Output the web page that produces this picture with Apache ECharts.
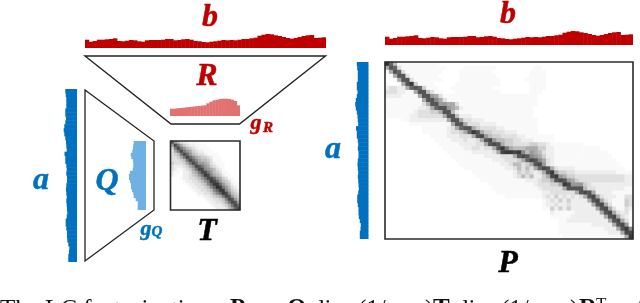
<!DOCTYPE html>
<html><head><meta charset="utf-8">
<style>html,body{margin:0;padding:0;background:#fff;overflow:hidden}#c{width:640px;height:303px;filter:blur(0.45px)}</style>
<script src="https://cdn.jsdelivr.net/npm/echarts@6/dist/echarts.min.js"></script>
</head><body><div id="c"></div>
<script>
const bMarginal = [8.3,6.3,7,8.3,8.3,8.7,9,9.7,7,6.7,7.3,8,7.7,6.7,6.3,7.7,8,8,8,8.3,9,9,7.7,8,8.7,9,8.3,7,6.7,6,5.7,6.3,6.7,7.3,8,7.7,8,7.7,8.3,9,9,9.7,10.3,12.3,13.3,14,13.7,12.7,12,11,10,9.3,10,11,12,12.7,13,10,10.3,10.7];
const aMarginal = [11.7,11.3,10.7,10.7,10.7,11.7,11.7,11,11.7,12.7,13.3,12.7,11.7,11,10.7,10.3,12.5,11.7,11.7,10.7,10.3,10.7,10,10,10.7,11,10.7,10.3,10.7,10.3,10,9.7,10.3,11.3,11.3,10.7,10,10,9.7,8.7,7.7,8,8.7,8.7];
const gR = [7.3,7.3,7.7,8,8.3,8.7,9,9.3,9.7,10,10.3,10.7,12.7,14.3,15.7,16.3,17,17.3,17.3,17,16.3,15,10.7];
const gQ = [12.3,12.7,13,13.7,15.3,14.7,13,12.7,12.7,13.3,16,17,17,16,15,15,14,12.7,12.3,10.3,8.3,8.3,8.3];
const tRows = [
"b7532 21110 00000 00000 000","7c964 32211 11000 00000 000","49c97 54321 11100 00000 000","369c9 76432 21110 00000 000",
"3459c a7543 32111 10000 000","33469 ca865 44321 11000 000","33345 9ca86 55431 11000 000","43334 69ca7 76532 11100 000",
"32223 468cb 97643 21100 000","32112 3469c c8765 32100 000","21102 23569 cc975 43110 000","21002 23457 9dc86 54211 000",
"00012 23345 79cca 76431 100","00001 22334 579dc a7543 110","00000 12233 458ad da754 211","00000 01223 3458a ed975 321",
"00000 00122 33458 add86 432","00000 00012 23346 8adc8 543","00000 00001 12234 569cb 754","00000 00000 01223 3458c b75",
"00000 00000 00122 33469 cb7","00000 00000 00012 22346 9ca","00000 00000 00001 22235 7ac"];
const pRows = [
"ea51111111 1110000000 0000000000 0000000000 0000000000 0000000000",
"6ba3111111 1111100001 1111111000 0000001100 0000000000 0000000000",
"16ba311111 1111000011 1111110000 0000011110 0000000000 0000000000",
"016bb31111 1110000011 1111111000 0000011110 0000000000 0000000000",
"0016bb3111 1111000011 1111111100 0000111110 0000000000 0000000000",
"10016bd411 1100000111 1111111100 0000011110 0000000000 0000000000",
"233226aba4 1110001111 1111110000 0000011110 0000000000 0000000000",
"33322116bb 5311000111 1111111100 0000011100 0000000000 0000000000",
"222211116b b763111111 1111111111 1111111000 0000000000 0000000000",
"1111111116 bb86311111 1111111111 1111111000 0000000000 0000000000",
"1111111113 6bb7766311 1111111111 1111111000 0000000000 0000000000",
"1111111122 36abb76521 1111111111 1111110000 0000000000 0000000000",
"1111111233 3446bb5211 1111111111 1111110000 0000000000 0000000000",
"1111112233 33336bb522 2111111111 1111110000 0000000000 0000000000",
"0000112222 222226bb63 3222111111 1111111000 0000000000 0000000000",
"0000001111 1111116bb6 3332222111 1111111000 0000000000 0000000000",
"0000000001 11111236ab b643333221 1111111000 0000000000 0000000000",
"0000000001 1111123346 adb6443332 2211111000 0000000000 0000000000",
"0000000000 0111122233 36bc754433 3322111111 1000000000 0000000000",
"0000000000 0011112223 2236bc7554 4332221111 1000000000 0000000000",
"0000000000 0001111122 22336bcb64 4333344332 1111111100 0000000000",
"0000000000 0000111112 2332336bd9 6555666442 2111111111 1100000000",
"0000000000 0000011111 12222236cd dcd8576532 2111111111 1111000000",
"0000000000 0000001111 1111222233 36bcb87642 2111111111 1111100000",
"0000000000 0000000111 1111112223 3346acb863 2111111111 1111110000",
"0000000000 0000000011 1111111122 355346bc73 2111111111 1111111000",
"0000000000 0000000001 1111111112 2353536acb 6322221111 1111111100",
"0000000000 0000000000 0111111111 124343236b d644332222 2222221111",
"0000000000 0000000000 0011111111 1235352246 cd76443333 3333333322",
"0000000000 0000000000 0001111111 1111222344 6bcb764333 3333333322",
"0000000000 0000000000 0000011111 1111112333 446dc77743 2222222222",
"0000000000 0000000000 0000001111 1111111233 3336bbbb53 3222222211",
"0000000000 0000000000 0000000111 1111111122 3333336bcb 6222211111",
"0000000000 0000000000 0000000001 1111111123 242323236b c632221133",
"0000000000 0000000000 0000000000 0000000012 3242422226 bc63211143",
"0000000000 0000000000 0000000000 0000000012 2322322222 6bc6311143",
"0000000000 0000000000 0000000000 0000000011 4242422222 26bc631132",
"0000000000 0000000000 0000000000 0000000000 2111112222 226bc63231",
"0000000000 0000000000 0000000000 0000000000 1111122222 2226bc6321",
"0000000000 0000000000 0000000000 0000000000 0011222222 22226bc631",
"0000000000 0000000000 0000000000 0000000000 0011111111 222226bc71",
"0000000000 0000000000 0000000000 0000000000 0011111111 1112226bd8",
"0000000000 0000000000 0000000000 0000000000 0011111111 11112226cc",
"0000000000 0000000000 0000000000 0000000000 0001111111 111111126d"];
const grayRamp = ['#ffffff','#f9f9f9','#eeeeee','#e0e0e0','#cfcfcf','#bdbdbd','#aaaaaa','#999999','#888888','#777777','#666666','#555555','#484848','#3a3a3a','#2e2e2e'];

const idx = n => Array.from({length:n},(_,i)=>i);
const cells = rows => rows.flatMap((r,y)=>r.replace(/ /g,'').split('').map((c,x)=>[x,y,parseInt(c,16)]));

const grids=[], xAxis=[], yAxis=[], series=[];
function hBars(rect,vals,max,color){
  const g=grids.length; grids.push(rect);
  xAxis.push({gridIndex:g,type:'category',data:idx(vals.length),show:false});
  yAxis.push({gridIndex:g,type:'value',min:0,max,show:false});
  series.push({type:'bar',xAxisIndex:g,yAxisIndex:g,data:vals,barWidth:'112%',silent:true,itemStyle:{color}});
}
function vBars(rect,vals,max,color){
  const g=grids.length; grids.push(rect);
  xAxis.push({gridIndex:g,type:'value',min:0,max,inverse:true,show:false});
  yAxis.push({gridIndex:g,type:'category',inverse:true,data:idx(vals.length),show:false});
  series.push({type:'bar',xAxisIndex:g,yAxisIndex:g,data:vals,barWidth:'112%',silent:true,itemStyle:{color}});
}
function heat(rect,rows){
  const g=grids.length; grids.push(rect);
  const n=rows[0].replace(/ /g,'').length;
  xAxis.push({gridIndex:g,type:'category',data:idx(n),show:false});
  yAxis.push({gridIndex:g,type:'category',inverse:true,data:idx(rows.length),show:false});
  series.push({type:'heatmap',xAxisIndex:g,yAxisIndex:g,data:cells(rows),silent:true,progressive:0,emphasis:{disabled:true}});
  return series.length-1;
}
const RED='#C00000', BLUE='#0070C0', MATH='"Liberation Serif",serif';
hBars({left:85,top:30,width:241,height:18},bMarginal,18,RED);
hBars({left:385,top:27,width:248,height:18},bMarginal,18,RED);
hBars({left:170,top:95,width:70,height:21},gR,21,'#E27272');
vBars({left:63,top:89,width:14,height:173},aMarginal,14,BLUE);
vBars({left:354.5,top:62,width:14,height:177},aMarginal,14,BLUE);
vBars({left:126,top:141,width:20,height:69},gQ,20,'#6FB1E4');
const h1=heat({left:171,top:141,width:69,height:69},tRows);
const h2=heat({left:385,top:62,width:248,height:177},pRows);

const txt=(x,y,text,size,fill)=>({type:'text',x,y,z:50,silent:true,style:{text,fill,stroke:fill,lineWidth:0.5,
  font:`italic bold ${size}px ${MATH}`,textAlign:'center',textVerticalAlign:'middle'}});
const cap=(x,text,font,y)=>({type:'text',x,y:y||310,z:50,silent:true,style:{text,fill:'#111',
  font:font||`25px ${MATH}`,textAlign:'left',textVerticalAlign:'middle'}});
const poly=(points,stroke,lineWidth)=>({type:'polygon',z:40,silent:true,shape:{points},style:{fill:'none',stroke,lineWidth}});
const frame=(x,y,w,h,lineWidth)=>({type:'rect',z:40,silent:true,shape:{x,y,width:w,height:h},style:{fill:'none',stroke:'#2b2b2b',lineWidth}});
const BOLD=`bold 25px ${MATH}`;
const graphic=[
  poly([[85,56],[325.5,56],[239.5,124],[171,124]],'#222',1.4),
  poly([[85,90],[154,141],[154,210],[85,261]],'#222',1.3),
  frame(170.5,141,69.5,69,1.6),
  frame(385,62,248,177,1.6),
  txt(210,18,'b',32,RED), txt(508,15,'b',32,RED),
  txt(207,77,'R',32,RED),
  txt(256,123,'g',22,RED), txt(268,128,'R',15,RED),
  txt(41,181,'a',32,BLUE), txt(333,150,'a',32,BLUE),
  txt(107,182,'Q',32,BLUE),
  txt(146,229,'g',22,BLUE), txt(157,232,'Q',15,BLUE),
  txt(207,232,'T',32,'#000'), txt(508,264,'P',32,'#000'),
  cap(0,'The LC factorization'), cap(230,'P',BOLD), cap(258,'='), cap(287,'Q',BOLD),
  cap(312,'diag'), cap(358,'(1/'), cap(425,')'), cap(433,'T',BOLD),
  cap(456,'diag'), cap(501,'(1/'), cap(570,')'), cap(579,'R',BOLD),
  cap(596,'T',`17px ${MATH}`,305), cap(624,'of')
];
const chart=echarts.init(document.getElementById('c'),null,{renderer:'canvas'});
chart.setOption({animation:false,backgroundColor:'#fff',grid:grids,xAxis,yAxis,series,graphic,
  visualMap:{show:false,type:'continuous',min:0,max:14,seriesIndex:[h1,h2],inRange:{color:grayRamp}}});
</script></body></html>
